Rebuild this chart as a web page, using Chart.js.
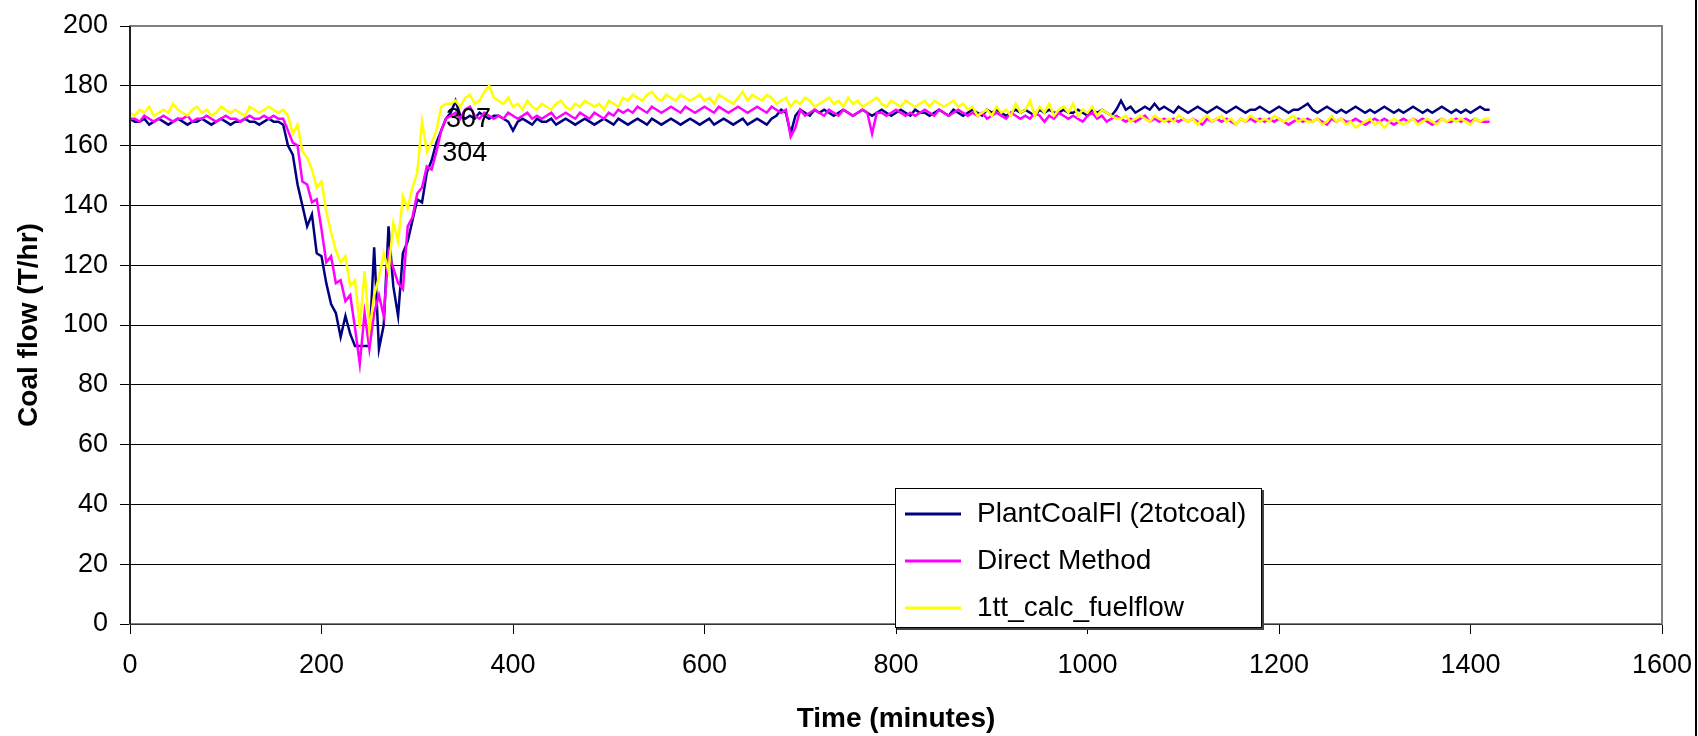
<!DOCTYPE html>
<html><head><meta charset="utf-8">
<script src="https://cdn.jsdelivr.net/npm/chart.js@4.4.1/dist/chart.umd.min.js"></script>
<style>html,body{margin:0;padding:0;background:#fff}canvas{display:block}</style>
</head><body>
<canvas id="c" width="1698" height="736"></canvas>
<script>
// ---- data ----
const seriesNames = ['PlantCoalFl (2totcoal)', 'Direct Method', '1tt_calc_fuelflow'];
const seriesColors = ['#000080', '#FF00FF', '#FFFF00'];
const timeStepMinutes = 5; // samples every 5 minutes starting at 0

const plantCoalFl = [
  169,168,168,169,167,168,169,168,167,168, 169,168,167,168,168,169,168,167,168,169,
  168,167,168,168,169,168,168,167,168,169, 168,168,
  167,160,157,147,140,133,137,124,123,114, 107,104,96,103,97,93,93,93,93,126,
  92,100,133,113,103,124,128,135,142,141, 151,155,161,165,169,
  171,175,170,169,170,169,171,170,169,170,
  170,169,168,165,168,169,168,167,169,168,
  168,169,167,168,169,168,167,168,169,168,
  167,168,169,168,167,169,168,167,168,169,
  168,167,169,168,167,168,169,168,167,168,
  169,168,167,168,169,167,168,169,168,167,
  168,169,167,168,169,168,167,169,170,172,
  171,164,170,172,171,170,172,171,172,171,
  170,171,172,171,170,171,172,171,170,171,
  172,171,170,171,172,171,170,172,171,171,
  170,171,172,171,170,172,171,170,171,172,
  171,170,172,171,172,171,170,171,172,171,
  172,171,170,172,171,172,171,171,172,171,
  171,172,171,170,172,171,172,171,170,172,
  175,172,173,171,172,173,172,174,172,173,
  172,171,173,172,171,172,173,172,171,172,
  173,172,171,172,173,172,171,172,172,173,
  172,171,172,173,172,171,172,172,173,174,
  172,171,172,173,172,171,172,171,172,173,
  172,171,172,171,172,173,172,171,172,171,
  172,173,172,171,172,171,172,173,172,171,
  172,171,172,171,172,173,172,172
];

const directMethod = [
  169,169,168,170,169,168,169,170,169,168, 169,169,170,168,169,169,170,169,168,169,
  170,169,169,168,169,170,169,169,170,169, 170,169,
  169,165,161,160,148,147,141,142,132,121, 123,114,115,108,110,99,87,104,92,104,
  110,103,124,119,114,112,133,136,144,146, 153,152,158,165,169,
  170,171,169,172,173,170,169,171,170,169,
  170,169,171,170,169,170,171,169,170,169,
  170,171,169,170,171,170,169,171,170,169,
  171,170,169,171,170,172,171,172,171,173,
  172,171,173,172,171,172,173,172,171,173,
  172,171,172,173,172,171,173,172,171,172,
  173,172,171,172,173,172,171,173,172,171,
  172,163,166,172,170,171,172,171,170,172,
  171,170,172,171,170,171,172,171,164,171,
  171,170,171,172,171,170,171,170,171,172,
  171,170,172,171,170,171,172,171,170,171,
  170,171,169,170,171,170,169,171,170,169,
  170,169,171,170,168,170,169,171,170,169,
  170,169,168,170,171,169,170,168,169,170,
  169,168,169,168,169,170,168,169,168,169,
  168,169,168,169,168,169,168,167,169,168,
  169,168,169,168,167,169,168,169,168,169,
  168,169,168,169,168,167,168,169,168,169,
  168,169,168,167,169,168,169,168,168,169,
  168,167,168,169,168,169,168,167,168,169,
  168,169,168,169,168,167,168,169,168,168,
  169,168,169,168,169,168,168,168
];

const calcFuelflow = [
  171,170,172,171,173,170,171,172,171,174, 172,171,170,172,173,171,172,170,171,173,
  172,171,172,171,170,173,172,171,172,173, 172,171,
  172,170,164,167,158,156,152,146,148,138, 131,125,121,123,113,115,99,118,98,110,
  116,124,118,134,128,143,139,146,151,168, 158,161,165,173,174,
  174,175,173,176,177,174,175,178,180,176,
  175,174,176,173,174,172,175,173,172,174,
  173,172,174,175,173,172,174,173,175,174,
  173,174,172,175,174,173,176,175,177,176,
  175,177,178,176,175,177,176,175,177,176,
  175,176,177,175,176,174,177,176,175,174,
  176,178,175,177,176,175,177,176,174,175,
  176,173,175,174,176,175,173,174,175,176,
  174,175,173,176,174,175,173,174,175,176,
  174,173,175,174,173,175,174,173,174,175,
  173,175,174,173,174,175,173,174,172,173,
  170,171,172,170,173,171,172,170,174,171,
  172,175,170,173,171,174,170,172,173,171,
  174,170,172,171,173,170,172,171,170,169,
  169,170,168,169,170,169,168,170,169,168,
  169,168,170,169,168,169,167,169,170,168,
  169,170,168,169,167,169,168,170,169,168,
  169,168,170,169,168,169,170,168,169,168,
  168,169,167,168,170,168,169,167,168,166,
  167,168,169,167,168,166,168,169,168,167,
  168,169,167,168,169,168,167,169,168,169,
  168,169,168,167,169,168,169,169
];

const xTickValues = [0, 200, 400, 600, 800, 1000, 1200, 1400, 1600];
const yTickValues = [0, 20, 40, 60, 80, 100, 120, 140, 160, 180, 200];
const xAxisTitle = 'Time (minutes)';
const yAxisTitle = 'Coal flow (T/hr)';
const pointLabelTexts = ['307', '304'];
const pointLabelXs = [330, 326];
const pointLabelYs = [168.8, 157.4];

// ---- build ----
const FONT = "'Liberation Sans', Arial, sans-serif";
const allSeries = [plantCoalFl, directMethod, calcFuelflow];
const times = plantCoalFl.map((_, i) => i * timeStepMinutes);

const datasets = allSeries.map((vals, k) => ({
  label: seriesNames[k],
  data: vals.map((v, i) => ({x: times[i], y: v})),
  borderColor: seriesColors[k],
  backgroundColor: seriesColors[k],
  borderWidth: 2.5,
  pointRadius: 0,
  tension: 0,
  fill: false,
  order: 3 - k
}));

const framePlugin = {
  id: 'frame',
  afterDatasetsDraw(chart) {
    const {ctx, chartArea: a} = chart;
    ctx.save();
    ctx.strokeStyle = '#808080';
    ctx.lineWidth = 2;
    ctx.strokeRect(a.left, a.top, a.right - a.left, a.bottom - a.top);
    ctx.strokeStyle = '#000';
    ctx.lineWidth = 1.5;
    ctx.beginPath();
    ctx.moveTo(a.left, a.top); ctx.lineTo(a.left, a.bottom);
    ctx.stroke();
    ctx.strokeStyle = '#333';
    ctx.lineWidth = 1;
    ctx.beginPath();
    ctx.moveTo(a.left, a.bottom + 0.5); ctx.lineTo(a.right, a.bottom + 0.5);
    ctx.stroke();
    // outer frame edge on the right
    ctx.strokeStyle = '#000';
    ctx.lineWidth = 2;
    ctx.beginPath();
    ctx.moveTo(chart.width - 2, 0); ctx.lineTo(chart.width - 2, chart.height);
    ctx.stroke();
    // point labels
    ctx.fillStyle = '#000';
    ctx.font = '27px ' + FONT;
    ctx.textAlign = 'left';
    ctx.textBaseline = 'middle';
    pointLabelTexts.forEach((t, i) => {
      ctx.fillText(t, chart.scales.x.getPixelForValue(pointLabelXs[i]),
                      chart.scales.y.getPixelForValue(pointLabelYs[i]));
    });
    ctx.restore();
  }
};

const legendPlugin = {
  id: 'boxLegend',
  afterDraw(chart) {
    const ctx = chart.ctx;
    const L = 895, T = 488, W = 367, H = 140;
    ctx.save();
    ctx.fillStyle = '#444';
    ctx.fillRect(L + 2, T + 2, W, H);
    ctx.fillStyle = '#fff';
    ctx.fillRect(L, T, W, H);
    ctx.strokeStyle = '#000';
    ctx.lineWidth = 1;
    ctx.strokeRect(L + 0.5, T + 0.5, W - 1, H - 1);
    ctx.font = '28px ' + FONT;
    ctx.textAlign = 'left';
    ctx.textBaseline = 'middle';
    chart.data.datasets.forEach((ds, i) => {
      const y = T + 26 + i * 47;
      ctx.strokeStyle = ds.borderColor;
      ctx.lineWidth = 3;
      ctx.beginPath();
      ctx.moveTo(L + 10, y); ctx.lineTo(L + 66, y);
      ctx.stroke();
      ctx.fillStyle = '#000';
      ctx.fillText(ds.label, L + 82, y);
    });
    ctx.restore();
  }
};

new Chart(document.getElementById('c'), {
  type: 'line',
  data: {datasets},
  options: {
    responsive: false,
    devicePixelRatio: 1,
    animation: false,
    layout: {padding: {top: 26, right: 36, left: 0, bottom: 0}},
    plugins: {legend: {display: false}, tooltip: {enabled: false}},
    scales: {
      x: {
        type: 'linear',
        min: xTickValues[0],
        max: xTickValues[xTickValues.length - 1],
        afterBuildTicks: s => { s.ticks = xTickValues.map(v => ({value: v})); },
        afterFit: s => { s.height = 112; s.paddingLeft = 0; s.paddingRight = 0; },
        grid: {drawOnChartArea: false, drawTicks: true, tickLength: 10, color: '#000'},
        border: {display: false},
        ticks: {color: '#000', padding: 15, maxRotation: 0, font: {family: FONT, size: 27},
                callback: v => String(v)},
        title: {display: true, text: xAxisTitle, color: '#000',
                font: {family: FONT, size: 28, weight: 'bold'}, padding: {top: 1, bottom: 0}}
      },
      y: {
        min: yTickValues[0],
        max: yTickValues[yTickValues.length - 1],
        afterBuildTicks: s => { s.ticks = yTickValues.map(v => ({value: v})); },
        afterFit: s => { s.width = 130; s.paddingTop = 0; s.paddingBottom = 0; },
        grid: {color: '#000', lineWidth: 1, tickLength: 10},
        border: {display: false},
        ticks: {color: '#000', padding: 12, font: {family: FONT, size: 27},
                callback: v => String(v)},
        title: {display: true, text: yAxisTitle, color: '#000',
                font: {family: FONT, size: 28, weight: 'bold'}, padding: {top: 12, bottom: 0}}
      }
    }
  },
  plugins: [framePlugin, legendPlugin]
});
</script>
</body></html>
